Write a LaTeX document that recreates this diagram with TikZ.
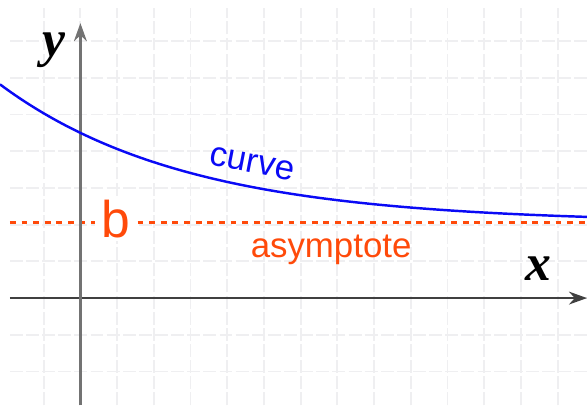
\documentclass[tikz,border=0pt]{standalone}
\usepackage{fontspec}
\setmainfont{Liberation Sans}
\newfontfamily\axisfont{Liberation Serif}
\usepackage{tikz}
\usetikzlibrary{arrows.meta,positioning}

\definecolor{gridgray}{HTML}{EFEFF1}
\definecolor{asymorange}{HTML}{FF4A0A}
\definecolor{curveblue}{HTML}{0A0AF5}

\begin{document}
\begin{tikzpicture}[
    x=1cm, y=1cm,
    gridline/.style={gridgray, line width=1.5pt, dash pattern=on 10pt off 2.5pt},
    axisline/.style={-{Stealth[length=14pt, width=10pt]}},
    asymline/.style={asymorange, line width=2.1pt, dash pattern=on 4.5pt off 4.5pt},
    curvelabel/.style={text=curveblue, font=\fontsize{27}{27}\selectfont},
    asymlabel/.style={text=asymorange, font=\fontsize{27}{27}\selectfont},
    varlabel/.style={font=\axisfont\bfseries\itshape\fontsize{40}{40}\selectfont},
]
    \useasboundingbox (-2.19,-2.92) rectangle (13.80,8.12);

    % Grid
    \foreach \gx in {-1,...,13}
        \draw[gridline] (\gx,-2.92) -- (\gx,7.9);
    \foreach \gy in {-2,...,7}
        \draw[gridline] (-1.92,\gy) -- (13.80,\gy);

    % Asymptote (broken around the label b)
    \coordinate (aleft) at (-1.92,2.05);
    \coordinate (aright) at (13.80,2.05);
    \draw[asymline] (aleft) -- (aright);
    \node[asymlabel, fill=white, inner sep=0pt, minimum width=1.17cm, minimum height=1.2cm,
          font=\fontsize{40}{40}\selectfont] (b) at (0.97,2.15) {b};
    \node[asymlabel] (asym) at (6.83,1.32) {asymptote};

    % Axes
    \coordinate (xstart) at (-1.92,0);
    \coordinate (xend) at (13.80,0);
    \coordinate (ystart) at (0,-2.92);
    \coordinate (yend) at (0,7.49);
    \draw[axisline, line width=1.5pt, black!75] (xstart) -- (xend);
    \draw[axisline, line width=2pt, black!55] (ystart) -- (yend);
    \node[varlabel] (ylab) at (-0.72,6.76) {y};
    \node[varlabel] (xlab) at (12.47,0.80) {x};

    % Curve
    \draw[curveblue, line width=1.9pt, domain=-2.19:13.8, samples=80, smooth]
        plot (\x, {2.05+2.45*exp(-0.197*\x)});
    \node[curvelabel, rotate=-11] (curve) at (4.68,3.66) {curve};
\end{tikzpicture}
\end{document}
